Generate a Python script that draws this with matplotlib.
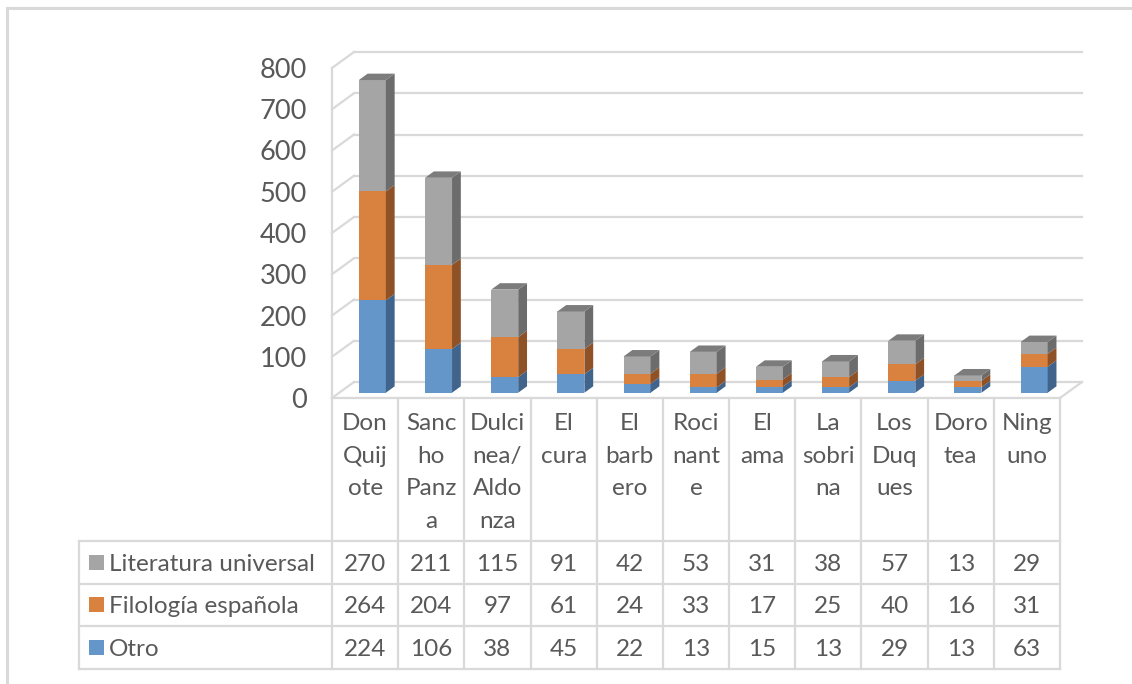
import matplotlib
matplotlib.use("Agg")
import matplotlib.pyplot as plt
from matplotlib.patches import Rectangle, Polygon

# --- data -------------------------------------------------------------
labels = ["Don\nQuij\note", "Sanc\nho\nPanz\na", "Dulci\nnea/\nAldo\nnza",
          "El\ncura", "El\nbarb\nero", "Roci\nnant\ne", "El\nama",
          "La\nsobri\nna", "Los\nDuq\nues", "Doro\ntea", "Ning\nuno"]
series_names = ["Literatura universal", "Filología española", "Otro"]
otro = [224, 106, 38, 45, 22, 13, 15, 13, 29, 13, 63]
filologia = [264, 204, 97, 61, 24, 33, 17, 25, 40, 16, 31]
literatura = [270, 211, 115, 91, 42, 53, 31, 38, 57, 13, 29]
y_ticks = [0, 100, 200, 300, 400, 500, 600, 700, 800]

# stacking order bottom -> top
stack = [(otro, "#6496c9", "#41648c", "#4f7aa8"),
         (filologia, "#d9823f", "#8e5226", "#b0652f"),
         (literatura, "#a5a5a5", "#6c6c6c", "#7c7c7c")]
table_rows = [(literatura, "#a5a5a5"), (filologia, "#d9823f"), (otro, "#6496c9")]

W, H = 1132, 684
TXT = "#595959"
GRID = "#d9d9d9"
FONT = "Lato"
FS = 17.5
FS_TICK = 19.5

fig = plt.figure(figsize=(W / 100, H / 100), dpi=100)

# plot area geometry (pixels)
x_front_left, x_front_right = 332, 1060
y_zero = 398
px_per_val = 0.4125
n = len(labels)
col_w = (x_front_right - x_front_left) / n
ax_top = 30
ax_right = 1092

ax = fig.add_axes([x_front_left / W, (H - y_zero) / H,
                   (ax_right - x_front_left) / W, (y_zero - ax_top) / H])
ax.set_xlim(-0.5, -0.5 + (ax_right - x_front_left) / col_w)
ax.set_ylim(0, (y_zero - ax_top) / px_per_val)
for s in ax.spines.values():
    s.set_visible(False)
ax.set_xticks([])
ax.set_yticks(y_ticks)
ax.set_yticklabels([str(v) for v in y_ticks], fontsize=FS_TICK, color=TXT, family=FONT)
ax.tick_params(axis="y", length=0, pad=18)
ax.patch.set_alpha(0)

# oblique depth of the walls in data units
DX = 22 / col_w
DY = 16 / px_per_val
x_left, x_right = -0.5, n - 0.5
lw = 1.6

# left wall: front vertical edge and slanted grid ticks
ax.plot([x_left, x_left], [0, y_ticks[-1]], color=GRID, lw=lw, clip_on=False, zorder=1)
for v in y_ticks:
    ax.plot([x_left, x_left + DX], [v, v + DY], color=GRID, lw=lw, clip_on=False, zorder=1)
    ax.plot([x_left + DX, x_right + DX], [v + DY, v + DY], color=GRID, lw=lw,
            clip_on=False, zorder=1)
# floor outline
ax.plot([x_left, x_right], [0, 0], color=GRID, lw=lw, clip_on=False, zorder=1)
ax.plot([x_right, x_right + DX], [0, DY], color=GRID, lw=lw, clip_on=False, zorder=1)

# 3-D stacked bars
bw = 27 / col_w
t0 = 0.33
dep = 0.40
for i in range(n):
    bottom = 0
    x0 = i - bw / 2 + t0 * DX
    for k, (vals, c_front, c_side, c_top) in enumerate(stack):
        h = vals[i]
        y0 = bottom + t0 * DY
        ax.add_patch(Rectangle((x0, y0), bw, h, facecolor=c_front,
                               edgecolor="none", zorder=3))
        ax.add_patch(Polygon([(x0 + bw, y0), (x0 + bw + dep * DX, y0 + dep * DY),
                              (x0 + bw + dep * DX, y0 + h + dep * DY), (x0 + bw, y0 + h)],
                             closed=True, facecolor=c_side, edgecolor="none", zorder=3))
        if k == len(stack) - 1:
            yt = y0 + h
            ax.add_patch(Polygon([(x0, yt), (x0 + bw, yt),
                                  (x0 + bw + dep * DX, yt + dep * DY),
                                  (x0 + dep * DX, yt + dep * DY)],
                                 closed=True, facecolor=c_top, edgecolor="none", zorder=3))
        bottom += h

# --- overlay in pixel coordinates for the data table and frame ---------
lay = fig.add_axes([0, 0, 1, 1])
lay.set_xlim(0, W)
lay.set_ylim(H, 0)
lay.axis("off")
lay.patch.set_alpha(0)

# outer frame
lay.plot([7, W], [8, 8], color=GRID, lw=2.2)
lay.plot([7, 7], [8, H], color=GRID, lw=2.2)

tbl_left = 79
header_bottom = 541
row_h = 42.5
rows_y = [header_bottom + r * row_h for r in range(len(table_rows) + 1)]
col_x = [x_front_left + k * col_w for k in range(n + 1)]

for xk in col_x:
    lay.plot([xk, xk], [y_zero, rows_y[-1]], color=GRID, lw=lw)
lay.plot([tbl_left, tbl_left], [header_bottom, rows_y[-1]], color=GRID, lw=lw)
for yr in rows_y:
    lay.plot([tbl_left, x_front_right], [yr, yr], color=GRID, lw=lw)

# category headers
for i, lab in enumerate(labels):
    lay.text(x_front_left + (i + 0.5) * col_w, y_zero + 15, lab, ha="center", va="top",
             fontsize=FS, color=TXT, family=FONT, linespacing=1.68)

# series rows
for r, ((vals, color), name) in enumerate(zip(table_rows, series_names)):
    yc = rows_y[r] + row_h / 2
    lay.add_patch(Rectangle((89, yc - 7.5), 15, 15, facecolor=color, edgecolor="none"))
    lay.text(109, yc, name, ha="left", va="center_baseline", fontsize=FS, color=TXT,
             family=FONT)
    for i, v in enumerate(vals):
        lay.text(x_front_left + (i + 0.5) * col_w, yc, str(v), ha="center",
                 va="center_baseline", fontsize=FS, color=TXT, family=FONT)

fig.savefig("out.png", dpi=100, facecolor="white")
